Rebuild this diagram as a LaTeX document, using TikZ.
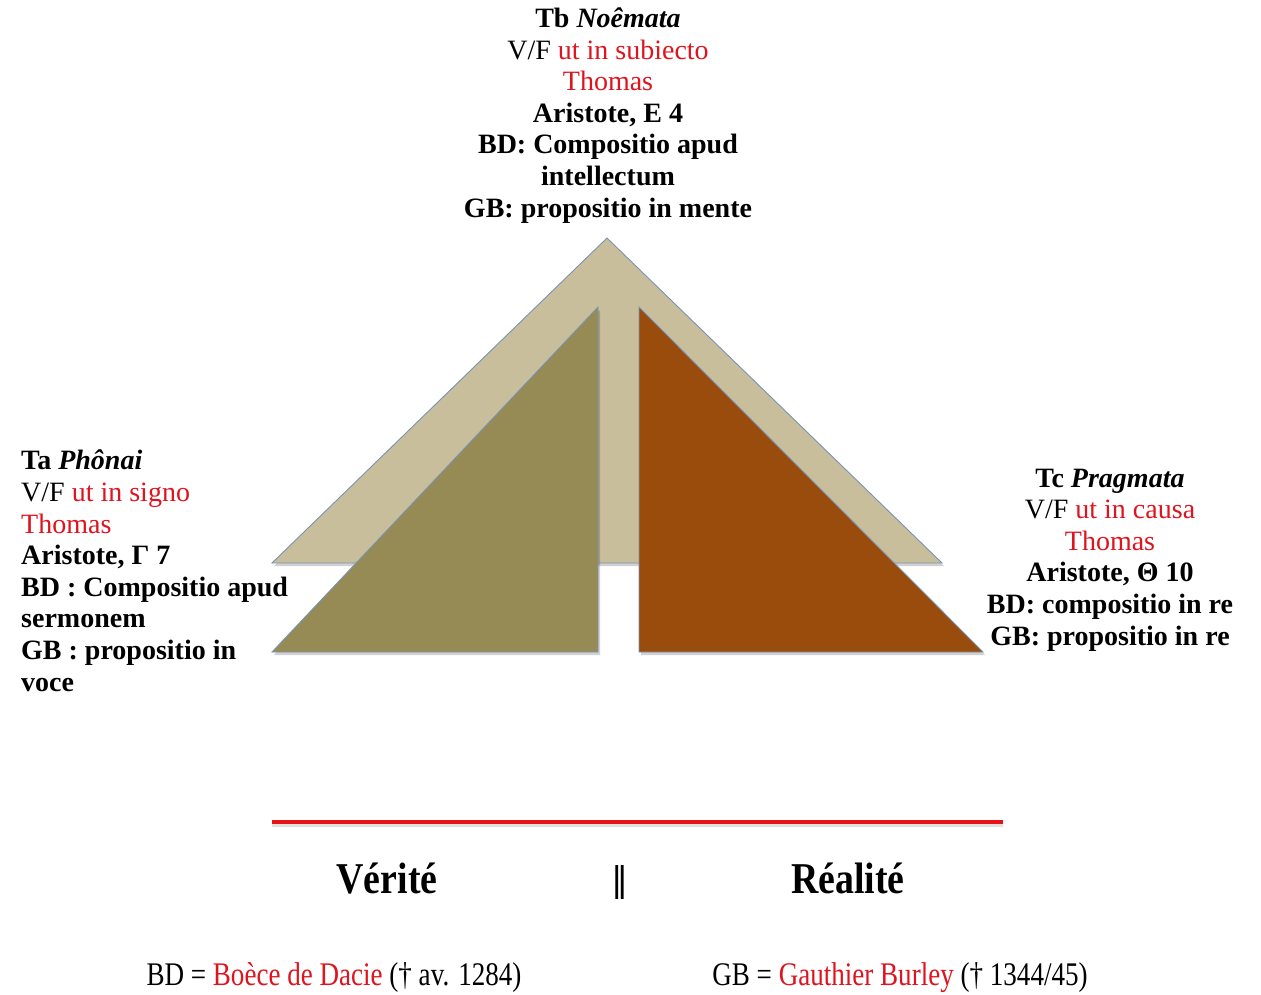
\documentclass[tikz,border=0pt]{standalone}
\usepackage{fontspec}
\setmainfont{Liberation Serif}
\newfontfamily\condA[FakeStretch=0.86]{Liberation Serif}
\newfontfamily\condB[FakeStretch=0.82]{Liberation Serif}
\newfontfamily\symfont{DejaVu Sans}
\definecolor{txtred}{RGB}{222,20,30}
\definecolor{linered}{RGB}{230,18,24}
\definecolor{beige}{RGB}{201,190,156}
\definecolor{olive}{RGB}{150,138,85}
\definecolor{brown}{RGB}{153,76,12}
\definecolor{edge}{RGB}{120,148,180}
\begin{document}
\begin{tikzpicture}[x=1pt,y=-1pt,
  blk/.style={font=\fontsize{28}{31.6}\selectfont, inner sep=0pt},
  tri/.style={draw=edge, line width=0.9pt, line join=miter},
  shade/.style={fill=black, opacity=0.18},
  head/.style={font=\condA\bfseries\fontsize{44}{44}\selectfont, inner sep=0pt, anchor=base},
  foot/.style={font=\condB\fontsize{33}{33}\selectfont, inner sep=0pt, anchor=base}]
\useasboundingbox (0,0) rectangle (1261,994);
\fill[white] (0,0) rectangle (1261,994);

% big triangle
\fill[shade] (609,241) -- (944,566) -- (274,566) -- cycle;
\filldraw[tri, fill=beige] (607,238) -- (942,563) -- (272,563) -- cycle;
% left triangle
\fill[shade] (600,310) -- (600,655) -- (274,655) -- cycle;
\filldraw[tri, fill=olive] (598,307) -- (598,652) -- (272,652) -- cycle;
% right triangle
\fill[shade] (641,310) -- (985,655) -- (641,655) -- cycle;
\filldraw[tri, fill=brown] (639,307) -- (983,652) -- (639,652) -- cycle;

% red line
\coordinate (la) at (272,822);
\coordinate (lb) at (1003,822);
\draw[line width=4pt, black, opacity=0.12] ([yshift=-3pt]la) -- ([yshift=-3pt]lb);
\draw[line width=4pt, linered] (la) -- (lb);

% top block
\node[blk, align=center, anchor=base] (tb) at (608,217) {%
\textbf{Tb \textit{Noêmata}}\\
V/F \textcolor{txtred}{ut in subiecto}\\
\textcolor{txtred}{Thomas}\\
\textbf{Aristote, E 4}\\
\textbf{BD: Compositio apud}\\
\textbf{intellectum}\\
\textbf{GB: propositio in mente}};

% left block
\node[blk, align=left, anchor=base west] (ta) at (21,691) {%
\textbf{Ta \textit{Phônai}}\\
V/F \textcolor{txtred}{ut in signo}\\
\textcolor{txtred}{Thomas}\\
\textbf{Aristote, Γ 7}\\
\textbf{BD : Compositio apud}\\
\textbf{sermonem}\\
\textbf{GB : propositio in}\\
\textbf{voce}};

% right block
\node[blk, align=center, anchor=base] (tc) at (1110,645) {%
\textbf{Tc \textit{Pragmata}}\\
V/F \textcolor{txtred}{ut in causa}\\
\textcolor{txtred}{Thomas}\\
\textbf{Aristote, Θ 10}\\
\textbf{BD: compositio in re}\\
\textbf{GB: propositio in re}};

% bottom labels
\node[head] (verite) at (387,893) {Vérité};
\node[head] (realite) at (848,893) {Réalité};
\node[inner sep=0pt, font=\symfont\fontsize{34}{34}\selectfont] (sep) at (620,883) {‖};

\node[foot] (bd) at (334,985) {BD = \textcolor{txtred}{Boèce de Dacie} († av. 1284)};
\node[foot] (gb) at (900,985) {GB = \textcolor{txtred}{Gauthier Burley} († 1344/45)};
\end{tikzpicture}
\end{document}
